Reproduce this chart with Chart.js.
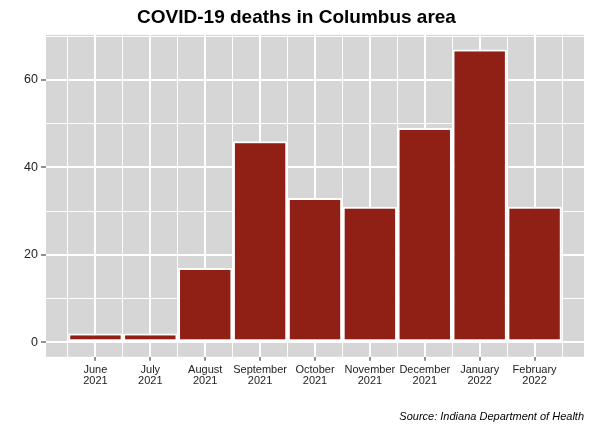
<!DOCTYPE html>
<html>
<head>
<meta charset="utf-8">
<script src="https://cdn.jsdelivr.net/npm/chart.js@4/dist/chart.umd.min.js"></script>
<style>
  html, body { margin: 0; padding: 0; background: #fff; }
  #wrap { width: 592px; height: 430px; }
</style>
</head>
<body>
<div id="wrap"><canvas id="deaths-chart"></canvas></div>
<script>
// chart data
var months = ['June', 'July', 'August', 'September', 'October', 'November', 'December', 'January', 'February'];
var years = ['2021', '2021', '2021', '2021', '2021', '2021', '2021', '2022', '2022'];
var deaths = [2, 2, 17, 46, 33, 31, 49, 67, 31];
var yTicks = [0, 10, 20, 30, 40, 50, 60, 70];

var panelGray = '#d6d6d6';
var textColor = '#222222';

// gray panel behind the grid, like the ggplot look
var panelBg = {
    id: 'panelBg',
    beforeDraw: function (chart) {
        var c = chart.ctx, a = chart.chartArea;
        c.save();
        c.fillStyle = '#ffffff';
        c.fillRect(0, 0, chart.width, chart.height);
        c.fillStyle = panelGray;
        c.fillRect(a.left, a.top, a.right - a.left, a.bottom - a.top);
        c.restore();
    }
};

function tickVal(c) { return c && c.tick ? c.tick.value : 0; }
function isMajor(v) { return Math.abs(v - Math.round(v)) < 0.01; }

var ctx = document.getElementById('deaths-chart').getContext('2d');
var deathsChart = new Chart(ctx, {
    type: 'bar',
    data: {
        datasets: [{
            label: 'Deaths',
            data: deaths.map(function (d, i) { return { x: i + 1, y: d }; }),
            backgroundColor: '#901f16',
            borderColor: '#ffffff',
            borderWidth: 2,
            borderSkipped: false,
            categoryPercentage: 1,
            barPercentage: 1.98 // ticks are every half unit
        }]
    },
    options: {
        responsive: true,
        maintainAspectRatio: false,
        animation: false,
        layout: { padding: { left: 9, right: 8, top: 0, bottom: 0 } },
        plugins: {
            legend: { display: false },
            tooltip: { enabled: false },
            title: {
                display: true,
                text: 'COVID-19 deaths in Columbus area',
                color: '#000',
                font: { family: 'Liberation Sans, Arial, sans-serif', size: 19, weight: 'bold' },
                padding: { top: 6, bottom: 6 }
            },
            subtitle: {
                display: true,
                position: 'bottom',
                align: 'end',
                text: 'Source: Indiana Department of Health',
                color: '#000',
                font: { family: 'Liberation Sans, Arial, sans-serif', size: 11, style: 'italic' },
                padding: { top: 14, bottom: 6 }
            }
        },
        scales: {
            x: {
                type: 'linear',
                min: 0.1,
                max: 9.9,
                offset: false,
                afterBuildTicks: function (scale) {
                    var t = [];
                    for (var v = 0.5; v <= 9.5; v += 0.5) t.push({ value: v });
                    scale.ticks = t;
                },
                afterFit: function (scale) { scale.height = 40; },
                border: { display: false },
                grid: {
                    offset: false,
                    color: '#ffffff',
                    lineWidth: function (c) { return isMajor(tickVal(c)) ? 2 : 1; },
                    tickLength: 4,
                    tickWidth: 1,
                    tickColor: function (c) { return isMajor(tickVal(c)) ? textColor : 'rgba(0,0,0,0)'; }
                },
                ticks: {
                    autoSkip: false,
                    maxRotation: 0,
                    padding: 4,
                    color: textColor,
                    font: { family: 'Liberation Sans, Arial, sans-serif', size: 11, lineHeight: '10.5px' },
                    callback: function (v) {
                        if (!isMajor(v) || v < 1 || v > 9) return '';
                        var i = Math.round(v) - 1;
                        return [months[i], years[i]];
                    }
                }
            },
            y: {
                min: -3.35,
                max: 70.35,
                afterBuildTicks: function (scale) {
                    scale.ticks = yTicks.map(function (v) { return { value: v }; });
                },
                afterFit: function (scale) { scale.width = 37; },
                border: { display: false },
                grid: {
                    color: '#ffffff',
                    lineWidth: function (c) { return tickVal(c) % 20 === 0 ? 2 : 1; },
                    tickLength: 5,
                    tickWidth: 1,
                    tickColor: function (c) { return tickVal(c) % 20 === 0 ? textColor : 'rgba(0,0,0,0)'; }
                },
                ticks: {
                    padding: 3,
                    color: textColor,
                    font: { family: 'Liberation Sans, Arial, sans-serif', size: 12.5 },
                    callback: function (v) { return v % 20 === 0 ? v : ''; }
                }
            }
        }
    },
    plugins: [panelBg]
});
</script>
</body>
</html>
